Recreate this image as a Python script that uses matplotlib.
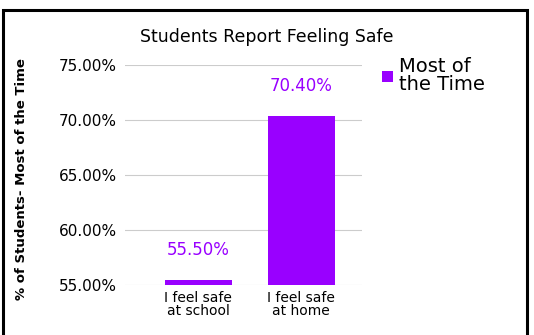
import matplotlib

matplotlib.use("Agg")
import matplotlib.pyplot as plt
from matplotlib.patches import Rectangle

categories = ["I feel safe\nat school", "I feel safe\nat home"]
values = [55.50, 70.40]
series_name = "Most of\nthe Time"
yticks = [55, 60, 65, 70, 75]

PURPLE = "#9900FF"

fig = plt.figure(figsize=(5.34, 3.35), dpi=100)
ax = fig.add_axes([0.234, 0.149, 0.444, 0.657])

x = list(range(len(categories)))
ax.bar(x, [v - 55 for v in values], bottom=55, width=0.65,
       color=PURPLE, zorder=3, label=series_name)
for xi, v in zip(x, values):
    ax.text(xi, v + 1.9, f"{v:.2f}%", ha="center", va="bottom",
            color=PURPLE, fontsize=12)

ax.set_ylim(55, 75)
ax.set_xlim(-0.71, 1.59)
ax.set_yticks(yticks)
ax.set_yticklabels([f"{t:.2f}%" for t in yticks], fontsize=11)
ax.set_xticks(x)
ax.set_xticklabels(categories, fontsize=10, linespacing=0.9)
ax.tick_params(length=0, pad=4)
ax.tick_params(axis="y", pad=6)
for s in ax.spines.values():
    s.set_visible(False)
ax.grid(axis="y", color="#cccccc", linewidth=0.8, zorder=0)
ax.set_axisbelow(True)

fig.text(22 / 534, 0.466, "% of Students- Most of the Time", rotation=90,
         ha="center", va="center", fontsize=9.5, fontweight="bold")
fig.text(0.5, 0.89, "Students Report Feeling Safe", ha="center", va="center", fontsize=12.5)

leg = ax.legend(loc="upper left", bbox_to_anchor=(1.01, 1.115), frameon=False,
                fontsize=14, handlelength=0.55, handleheight=0.55, handletextpad=0.35,
                labelspacing=0.2)
for t in leg.get_texts():
    t.set_linespacing(0.95)

fig.patches.append(Rectangle((3 / 534, -0.05), 524 / 534, 1 - 10 / 335 + 0.05,
                             transform=fig.transFigure, fill=False,
                             edgecolor="black", linewidth=2.2))

fig.savefig("out.png", dpi=100)
